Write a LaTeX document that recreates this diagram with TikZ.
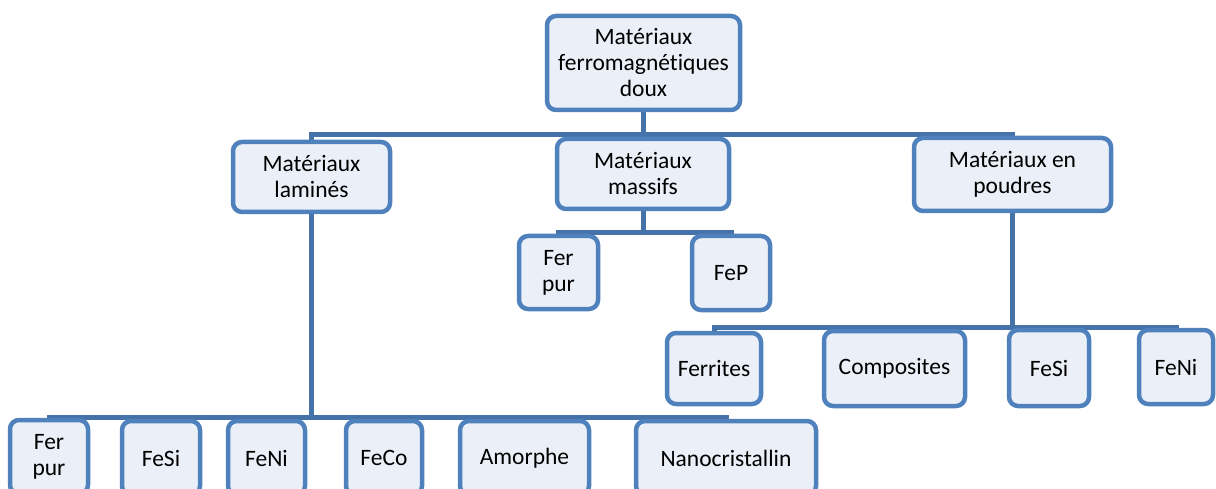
\documentclass[tikz,border=0pt]{standalone}
\usepackage{fontspec}
\setmainfont{Carlito}[Ligatures=NoCommon]
\usetikzlibrary{backgrounds}
\definecolor{boxline}{HTML}{4F81BD}
\definecolor{boxfill}{HTML}{EBF0F8}
\definecolor{conline}{HTML}{4672AA}
\begin{document}
\begin{tikzpicture}[x=1pt,y=-1pt,
    box/.style={draw=boxline, fill=boxfill, line width=4.5pt, rounded corners=9pt,
      align=center, inner sep=0pt, font=\fontsize{23.5}{26}\selectfont},
    con/.style={draw=conline, line width=5pt}]
  \useasboundingbox (0,0) rectangle (1216,489);
  \clip (0,0) rectangle (1216,489);
  % levels of the buses
  \coordinate (b1) at (0,135);
  \coordinate (b2) at (0,233);
  \coordinate (b3) at (0,327);
  \coordinate (b4) at (0,417);
  \node[box, minimum width=193, minimum height=94] (root) at (643.5,63) {Matériaux\\ferromagnétiques\\doux};
  \node[box, minimum width=157, minimum height=70] (lam) at (311.5,177) {Matériaux\\laminés};
  \node[box, minimum width=172, minimum height=70] (mas) at (643,174) {Matériaux\\massifs};
  \node[box, minimum width=197, minimum height=73] (pou) at (1012.5,174.5) {Matériaux en\\poudres};
  \node[box, minimum width=79, minimum height=73] (mferpur) at (558.5,272.5) {Fer\\pur};
  \node[box, minimum width=78, minimum height=74] (mfep) at (731,273) {FeP};
  \node[box, minimum width=94, minimum height=71] (pferr) at (714,368.5) {Ferrites};
  \node[box, minimum width=141, minimum height=75] (pcomp) at (894.5,368.5) {Composites};
  \node[box, minimum width=80, minimum height=76] (pfesi) at (1049,368) {FeSi};
  \node[box, minimum width=74, minimum height=74] (pfeni) at (1176,367) {FeNi};
  \node[box, minimum width=78, minimum height=74] (lferpur) at (49,457) {Fer\\pur};
  \node[box, minimum width=78, minimum height=74] (lfesi) at (161,458) {FeSi};
  \node[box, minimum width=77, minimum height=74] (lfeni) at (266.5,458) {FeNi};
  \node[box, minimum width=76, minimum height=74] (lfeco) at (384,458) {FeCo};
  \node[box, minimum width=129, minimum height=74] (lamor) at (524.5,458) {Amorphe};
  \node[box, minimum width=180, minimum height=74] (lnano) at (726,458) {Nanocristallin};
  \begin{scope}[on background layer]
    \foreach \c in {lam, mas, pou}
      \draw [con] (root) -- (root |- b1) -| (\c);
    \foreach \c in {mferpur, mfep}
      \draw [con] (mas) -- (mas |- b2) -| (\c);
    \foreach \c in {pferr, pcomp, pfesi, pfeni}
      \draw [con] (pou) -- (pou |- b3) -| (\c);
    \foreach \c in {lferpur, lfesi, lfeni, lfeco, lamor, lnano}
      \draw [con] (lam) -- (lam |- b4) -| (\c);
  \end{scope}
\end{tikzpicture}
\end{document}
